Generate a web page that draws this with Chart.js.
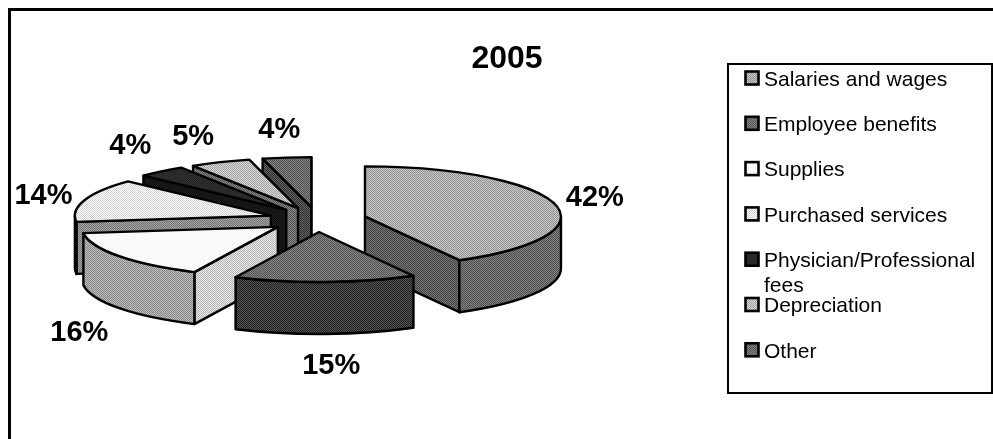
<!DOCTYPE html>
<html>
<head>
<meta charset="utf-8">
<title>2005</title>
<script src="https://cdn.jsdelivr.net/npm/chart.js@4/dist/chart.umd.min.js"></script>
<style>
    html, body { margin: 0; padding: 0; background: #fff; }
    canvas { display: block; }
</style>
</head>
<body>
<canvas id="pieChart" width="993" height="439"></canvas>
<script>
const categories = ['Salaries and wages', 'Employee benefits', 'Supplies', 'Purchased services', 'Physician/Professional fees', 'Depreciation', 'Other'];
const shares = [42, 15, 16, 14, 4, 5, 4];
const topColors = ['#adadad', '#6c6c6c', '#fbfbfb', '#ececec', '#2a2a2a', '#bdbdbd', '#6a6a6a'];
const sideColors = ['#686868', '#3a3a3a', '#a2a2a2', '#8c8c8c', '#161616', '#6c6c6c', '#484848'];
const innerColors = ['#5c5c5c', '#3a3a3a', '#cfcfcf', '#8c8c8c', '#161616', '#6c6c6c', '#484848'];
const labelNudges = [[40, -6], [6, 84], [-40, 77], [-41, -4], [-31, -25], [-27, -25], [-7.5, -27]];

const RADIUS = 196;
const SQUASH = 50 / 196;
const DEPTH = 52;
const EXPLODE = 0.25;

function halftone(ctx, color) {
    const tile = document.createElement('canvas');
    tile.width = tile.height = 2;
    const t = tile.getContext('2d');
    const v = parseInt(color.slice(1, 3), 16);
    const amount = v > 240 || v < 50 ? 8 : 26;
    t.fillStyle = `rgb(${v + amount},${v + amount},${v + amount})`;
    t.fillRect(0, 0, 2, 2);
    t.fillStyle = `rgb(${v - amount},${v - amount},${v - amount})`;
    t.fillRect(0, 0, 1, 1);
    t.fillRect(1, 1, 1, 1);
    return ctx.createPattern(tile, 'repeat');
}

function sliceGeometry(arc) {
    const mid = (arc.startAngle + arc.endAngle) / 2;
    const rx = arc.outerRadius;
    const ry = rx * SQUASH;
    return {
        x: arc.x + Math.cos(mid) * rx * EXPLODE,
        y: arc.y + Math.sin(mid) * ry * EXPLODE,
        rx, ry, mid,
        start: arc.startAngle,
        end: arc.endAngle
    };
}

function fillAndStroke(ctx, fill) {
    ctx.fillStyle = fill;
    ctx.fill();
    ctx.stroke();
}

function drawCutFace(ctx, g, a, fill) {
    const px = g.x + Math.cos(a) * g.rx;
    const py = g.y + Math.sin(a) * g.ry;
    ctx.beginPath();
    ctx.moveTo(g.x, g.y);
    ctx.lineTo(px, py);
    ctx.lineTo(px, py + DEPTH);
    ctx.lineTo(g.x, g.y + DEPTH);
    ctx.closePath();
    fillAndStroke(ctx, fill);
}

function drawSlice(ctx, g, i) {
    // only the cut faces turned towards the viewer
    if (Math.cos(g.start) < 0) drawCutFace(ctx, g, g.start, halftone(ctx, innerColors[i]));
    if (Math.cos(g.end) > 0) drawCutFace(ctx, g, g.end, halftone(ctx, innerColors[i]));

    // outer wall, front half of the ellipse
    const from = Math.max(g.start, 0);
    const to = Math.min(g.end, Math.PI);
    if (to > from) {
        ctx.beginPath();
        ctx.ellipse(g.x, g.y, g.rx, g.ry, 0, from, to);
        ctx.ellipse(g.x, g.y + DEPTH, g.rx, g.ry, 0, to, from, true);
        ctx.closePath();
        fillAndStroke(ctx, halftone(ctx, sideColors[i]));
    }

    ctx.beginPath();
    ctx.moveTo(g.x, g.y);
    ctx.ellipse(g.x, g.y, g.rx, g.ry, 0, g.start, g.end);
    ctx.closePath();
    fillAndStroke(ctx, halftone(ctx, topColors[i]));
}

const pie3d = {
    id: 'pie3d',
    beforeDatasetDraw(chart, args) {
        const ctx = chart.ctx;
        const slices = args.meta.data.map((arc, i) => ({ g: sliceGeometry(arc), i }));
        ctx.save();
        ctx.strokeStyle = '#000';
        ctx.lineWidth = 2.4;
        ctx.lineJoin = 'round';
        // back to front
        slices.slice().sort((a, b) => Math.sin(a.g.mid) - Math.sin(b.g.mid)).forEach(s => drawSlice(ctx, s.g, s.i));
        ctx.restore();
        return false;
    },
    afterDraw(chart) {
        const ctx = chart.ctx;
        const arcs = chart.getDatasetMeta(0).data;
        ctx.save();

        // outer frame, cut off by the scan on the right and bottom
        ctx.strokeStyle = '#000';
        ctx.lineWidth = 3;
        ctx.beginPath();
        ctx.moveTo(9.5, 439);
        ctx.lineTo(9.5, 9.5);
        ctx.lineTo(993, 9.5);
        ctx.stroke();

        ctx.fillStyle = '#000';
        ctx.textAlign = 'center';
        ctx.textBaseline = 'middle';
        ctx.font = 'bold 32px "Liberation Sans"';
        ctx.fillText('2005', 507, 59);

        ctx.font = 'bold 29px "Liberation Sans"';
        arcs.forEach((arc, i) => {
            const g = sliceGeometry(arc);
            const x = g.x + Math.cos(g.mid) * g.rx + labelNudges[i][0];
            const y = g.y + Math.sin(g.mid) * g.ry + labelNudges[i][1];
            ctx.fillText(shares[i] + '%', x, y);
        });

        // legend
        ctx.lineWidth = 2;
        ctx.strokeRect(728, 64, 264, 329);
        ctx.textAlign = 'left';
        ctx.font = '21px "Liberation Sans"';
        categories.forEach((name, i) => {
            const y = 78 + i * 45.3;
            ctx.lineWidth = 2.6;
            ctx.fillStyle = halftone(ctx, topColors[i]);
            ctx.fillRect(745.5, y - 6.5, 13, 13);
            ctx.strokeRect(745.5, y - 6.5, 13, 13);
            ctx.fillStyle = '#000';
            if (ctx.measureText(name).width > 222) {
                const cut = name.lastIndexOf(' ');
                ctx.fillText(name.slice(0, cut), 764, y + 2);
                ctx.fillText(name.slice(cut + 1), 764, y + 27);
            } else {
                ctx.fillText(name, 764, y + 2);
            }
        });
        ctx.restore();
    }
};

new Chart(document.getElementById('pieChart'), {
    type: 'pie',
    data: {
        labels: categories,
        datasets: [{ data: shares, backgroundColor: topColors, borderWidth: 0, radius: RADIUS }]
    },
    options: {
        responsive: false,
        animation: false,
        layout: { padding: { left: 0, right: 358, top: 0, bottom: 0 } },
        plugins: { legend: { display: false }, tooltip: { enabled: false } }
    },
    plugins: [pie3d]
});
</script>
</body>
</html>
